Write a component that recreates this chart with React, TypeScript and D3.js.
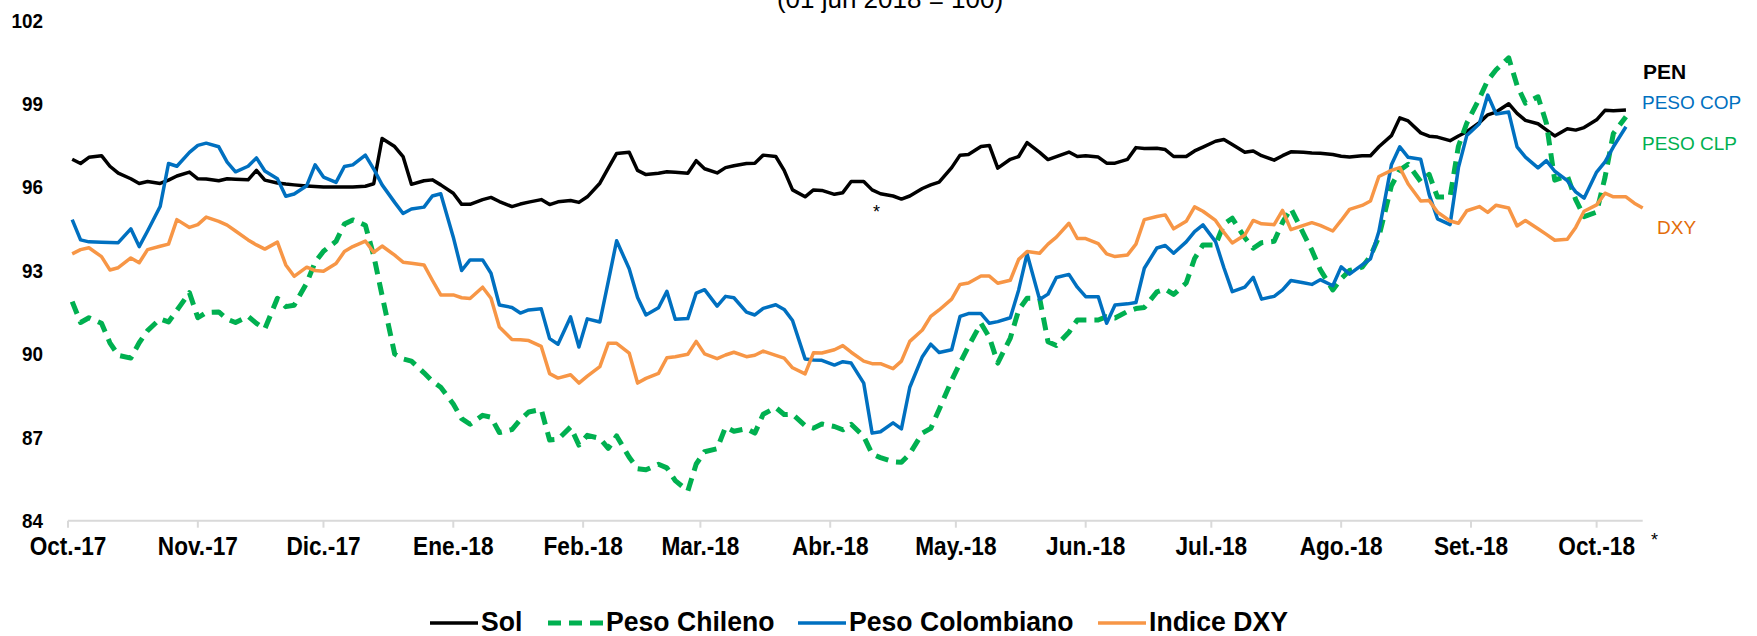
import React from "react";
import * as d3 from "d3";

const W = 1757;
const H = 636;

// month tick labels (x axis) and value ticks (y axis)
const monthLabels = [
  "Oct.-17", "Nov.-17", "Dic.-17", "Ene.-18", "Feb.-18", "Mar.-18", "Abr.-18",
  "May.-18", "Jun.-18", "Jul.-18", "Ago.-18", "Set.-18", "Oct.-18",
];
const yTicks = [84, 87, 90, 93, 96, 99, 102];

// readings taken Mon / Wed / Fri, 2 Oct 2017 .. 12 Oct 2018
const sol = [
  97.0, 96.85, 97.07, 97.13, 96.75, 96.5, 96.3, 96.13, 96.2, 96.13, 96.25, 96.4,
  96.54, 96.3, 96.29, 96.23, 96.3, 96.28, 96.26, 96.6, 96.25, 96.15, 96.11, 96.08,
  96.04, 96.02, 96.0, 96.0, 96.0, 96.0, 96.03, 96.12, 97.75, 97.46, 97.1, 96.1,
  96.23, 96.26, 96.08, 95.78, 95.38, 95.38, 95.55, 95.63, 95.48, 95.3, 95.39, 95.46,
  95.55, 95.37, 95.47, 95.52, 95.45, 95.65, 96.14, 96.68, 97.21, 97.25, 96.6, 96.45,
  96.5, 96.55, 96.53, 96.5, 96.95, 96.66, 96.51, 96.7, 96.77, 96.85, 96.86, 97.15,
  97.1, 96.6, 95.9, 95.65, 95.9, 95.88, 95.74, 95.8, 96.2, 96.2, 95.9, 95.76,
  95.68, 95.57, 95.68, 95.95, 96.08, 96.18, 96.7, 97.15, 97.17, 97.46, 97.5, 96.68,
  97.0, 97.1, 97.6, 97.25, 96.99, 97.1, 97.26, 97.1, 97.13, 97.08, 96.86, 96.86,
  97.0, 97.42, 97.39, 97.4, 97.35, 97.1, 97.1, 97.3, 97.44, 97.65, 97.71, 97.53,
  97.25, 97.3, 97.13, 96.97, 97.13, 97.27, 97.25, 97.23, 97.22, 97.17, 97.11, 97.08,
  97.13, 97.13, 97.45, 97.85, 98.49, 98.38, 97.95, 97.83, 97.8, 97.67, 97.84, 97.99,
  98.32, 98.6, 98.7, 99.0, 98.65, 98.4, 98.28, 98.06, 97.84, 98.1, 98.05, 98.14,
  98.42, 98.76, 98.75, 98.77, null, null,
];
const pesoChileno = [
  91.88, 91.13, 91.3, 91.1, 90.4, 89.95, 89.85, 90.4, 90.84, 91.26, 91.15, 91.57,
  92.2, 91.3, 91.49, 91.51, 91.25, 91.13, 91.35, 91.1, 90.9, 92.0, 91.7, 91.75,
  92.55, 93.3, 93.69, 94.05, 94.67, 94.82, 94.63, 93.53, 92.1, 90.0, 89.82, 89.74,
  89.32, 89.02, 88.8, 88.2, 87.67, 87.47, 87.79, 87.72, 87.17, 87.28, 87.63, 87.91,
  88.0, 86.9, 86.93, 87.37, 86.72, 87.07, 86.96, 86.6, 87.05, 86.28, 85.87, 85.83,
  86.03, 85.9, 85.44, 85.07, 86.04, 86.48, 86.59, 87.37, 87.22, 87.31, 87.15, 87.83,
  88.07, 87.82, 87.83, 87.42, 87.33, 87.48, 87.39, 87.27, 87.47, 87.03, 86.4, 86.27,
  86.12, 86.1, 86.41, 87.15, 87.32, 88.0, 89.05, 89.67, 90.27, 91.1, 90.6, 89.67,
  90.57, 91.58, 92.0, 92.0, 90.44, 90.3, 90.78, 91.22, 91.22, 91.22, 91.34, 91.29,
  91.53, 91.63, 91.67, 92.23, 92.33, 92.14, 92.55, 93.43, 93.92, 93.92, 94.67, 94.88,
  94.18, 93.8, 94.0, 94.05, 94.73, 95.23, 94.33, 93.73, 93.03, 92.3, 92.7, 93.0,
  93.12, 93.52, 94.21, 96.05, 96.61, 96.82, 96.2, 96.46, 95.64, 95.65, 97.47, 98.3,
  99.19, 99.84, 100.22, 100.65, 99.66, 99.02, 99.25, 98.3, 96.25, 96.41, 95.55, 94.94,
  95.1, 96.35, 97.93, 98.53, null, null,
];
const pesoColombiano = [
  94.83, 94.1, 94.03, 94.02, 94.01, 94.0, 94.5, 93.86, 94.42, 95.3, 96.85, 96.75,
  97.25, 97.5, 97.58, 97.45, 96.9, 96.55, 96.75, 97.05, 96.58, 96.3, 95.67, 95.75,
  96.05, 96.8, 96.36, 96.17, 96.74, 96.8, 97.15, 96.65, 96.08, 95.45, 95.05, 95.21,
  95.28, 95.68, 95.76, 94.2, 93.0, 93.38, 93.38, 92.9, 91.76, 91.67, 91.47, 91.58,
  91.62, 90.55, 90.35, 91.33, 90.25, 91.26, 91.15, 92.6, 94.07, 93.06, 92.03, 91.4,
  91.66, 92.25, 91.25, 91.27, 92.19, 92.31, 91.72, 92.07, 92.02, 91.5, 91.4, 91.64,
  91.77, 91.6, 91.2, 89.82, 89.78, 89.77, 89.6, 89.72, 89.67, 88.95, 87.15, 87.2,
  87.52, 87.3, 88.8, 89.9, 90.35, 90.05, 90.15, 91.35, 91.45, 91.45, 91.1, 91.16,
  91.3, 92.3, 93.6, 91.96, 92.15, 92.75, 92.86, 92.4, 92.06, 92.06, 91.1, 91.76,
  91.8, 91.85, 93.08, 93.81, 93.9, 93.62, 94.03, 94.4, 94.64, 94.04, 93.1, 92.24,
  92.4, 92.75, 91.97, 92.07, 92.3, 92.64, 92.56, 92.5, 92.67, 92.45, 93.13, 92.87,
  93.2, 93.42, 94.4, 96.8, 97.45, 97.07, 97.0, 95.74, 94.86, 94.65, 96.7, 97.86,
  98.28, 99.31, 98.63, 98.7, 97.45, 97.08, 96.69, 96.95, 96.57, 96.23, 95.83, 95.6,
  96.54, 96.91, 97.45, 98.17, null, null,
];
const indiceDxy = [
  93.6, 93.75, 93.82, 93.5, 93.02, 93.1, 93.45, 93.28, 93.75, 93.87, 93.95, 94.83,
  94.55, 94.65, 94.92, 94.77, 94.63, 94.42, 94.1, 93.92, 93.77, 94.02, 93.2, 92.79,
  93.12, 93.0, 92.97, 93.25, 93.68, 93.86, 94.06, 93.65, 93.88, 93.55, 93.3, 93.26,
  93.2, 92.65, 92.12, 92.12, 92.02, 91.99, 92.4, 92.0, 90.97, 90.52, 90.51, 90.48,
  90.27, 89.29, 89.13, 89.25, 88.95, 89.2, 89.54, 90.38, 90.38, 90.03, 88.95, 89.12,
  89.3, 89.86, 89.9, 89.99, 90.45, 90.0, 89.83, 89.96, 90.06, 89.9, 89.95, 90.1,
  89.95, 89.85, 89.5, 89.28, 90.04, 90.03, 90.15, 90.3, 90.06, 89.74, 89.65, 89.65,
  89.47, 89.74, 90.45, 90.86, 91.35, 91.58, 91.97, 92.5, 92.55, 92.8, 92.8, 92.54,
  92.65, 93.4, 93.68, 93.62, 93.95, 94.2, 94.7, 94.15, 94.15, 93.97, 93.6, 93.5,
  93.56, 93.95, 94.83, 94.94, 95.0, 94.5, 94.77, 95.29, 95.13, 94.8, 94.37, 93.99,
  94.28, 94.8, 94.68, 94.65, 95.16, 94.47, 94.62, 94.72, 94.62, 94.42, 94.8, 95.2,
  95.34, 95.5, 96.38, 96.6, 96.7, 96.11, 95.5, 95.52, 95.1, 94.78, 94.7, 95.15,
  95.3, 95.09, 95.35, 95.25, 94.6, 94.8, 94.5, 94.3, 94.09, 94.12, 94.55, 95.13,
  95.36, 95.78, 95.65, 95.65, 95.42, 95.25,
];

const days = d3
  .utcDay.range(new Date(Date.UTC(2017, 9, 2)), new Date(Date.UTC(2018, 9, 13)))
  .filter((d) => [1, 3, 5].includes(d.getUTCDay()));
const months = d3.utcMonth.range(new Date(Date.UTC(2017, 9, 1)), new Date(Date.UTC(2018, 9, 2)));

const series = [
  { name: "Sol", values: sol, color: "#000000", width: 3.5, dash: "" },
  { name: "Peso Chileno", values: pesoChileno, color: "#00B050", width: 5, dash: "13,8" },
  { name: "Peso Colombiano", values: pesoColombiano, color: "#0070C0", width: 3.5, dash: "" },
  { name: "Indice DXY", values: indiceDxy, color: "#F79646", width: 3.5, dash: "" },
];

const endLabels = [
  { text: "PEN", color: "#000000", bold: true, x: 1643, y: 79 },
  { text: "PESO COP", color: "#0070C0", bold: false, x: 1642, y: 109 },
  { text: "PESO CLP", color: "#00B050", bold: false, x: 1642, y: 150 },
  { text: "DXY", color: "#E36C09", bold: false, x: 1657, y: 234 },
];

const legendPos = [430, 548, 798, 1098];

const FONT = "'Liberation Sans', Arial, sans-serif";

export default function App() {
  const x = d3
    .scaleUtc()
    .domain([new Date(Date.UTC(2017, 9, 1)), new Date(Date.UTC(2018, 9, 12))])
    .range([68, 1642.7]);
  const y = d3.scaleLinear().domain([84, 102]).range([520.7, 20.3]);

  const line = d3
    .line<number | null>()
    .defined((v) => v != null)
    .x((_, i) => x(days[i]))
    .y((v) => y(v as number));

  const axisY = y(84);

  return (
    <svg
      width={W}
      height={H}
      style={{ position: "absolute", left: 0, top: 0, background: "#fff" }}
      fontFamily={FONT}
    >
      <text x={890} y={8} textAnchor="middle" fontSize={26} fill="#000">
        (01 jun 2018 = 100)
      </text>

      {yTicks.map((t) => (
        <text
          key={t}
          transform={`translate(43,${y(t)}) scale(0.9,1)`}
          dy="0.35em"
          textAnchor="end"
          fontSize={21}
          fontWeight="bold"
          fill="#000"
        >
          {t}
        </text>
      ))}

      <line x1={x.range()[0]} x2={x.range()[1]} y1={axisY} y2={axisY} stroke="#D9D9D9" strokeWidth={2} />
      {months.map((m, i) => (
        <g key={i}>
          <line x1={x(m)} x2={x(m)} y1={axisY} y2={axisY + 7} stroke="#D9D9D9" strokeWidth={2} />
          <text
            transform={`translate(${x(m)},${axisY + 34}) scale(0.87,1)`}
            textAnchor="middle"
            fontSize={26}
            fontWeight="bold"
            fill="#000"
          >
            {monthLabels[i]}
          </text>
        </g>
      ))}
      <text x={1651} y={546} fontSize={18} fill="#000">*</text>
      <text x={873} y={218} fontSize={18} fill="#000">*</text>

      {series.map((s) => (
        <path
          key={s.name}
          d={line(s.values) ?? ""}
          fill="none"
          stroke={s.color}
          strokeWidth={s.width}
          strokeDasharray={s.dash || undefined}
          strokeLinejoin="round"
        />
      ))}

      {endLabels.map((l) => (
        <text
          key={l.text}
          x={l.x}
          y={l.y}
          fontSize={l.bold ? 21 : 19}
          fontWeight={l.bold ? "bold" : "normal"}
          fill={l.color}
        >
          {l.text}
        </text>
      ))}

      {series.map((s, i) => (
        <g key={s.name} transform={`translate(${legendPos[i]},623)`}>
          <line
            x1={0}
            x2={s.dash ? 55 : 48}
            y1={0}
            y2={0}
            stroke={s.color}
            strokeWidth={s.width}
            strokeDasharray={s.dash || undefined}
          />
          <text
            transform={`translate(${s.dash ? 58 : 51},8) scale(0.95,1)`}
            fontSize={28}
            fontWeight="bold"
            fill="#000"
          >
            {s.name}
          </text>
        </g>
      ))}
    </svg>
  );
}
